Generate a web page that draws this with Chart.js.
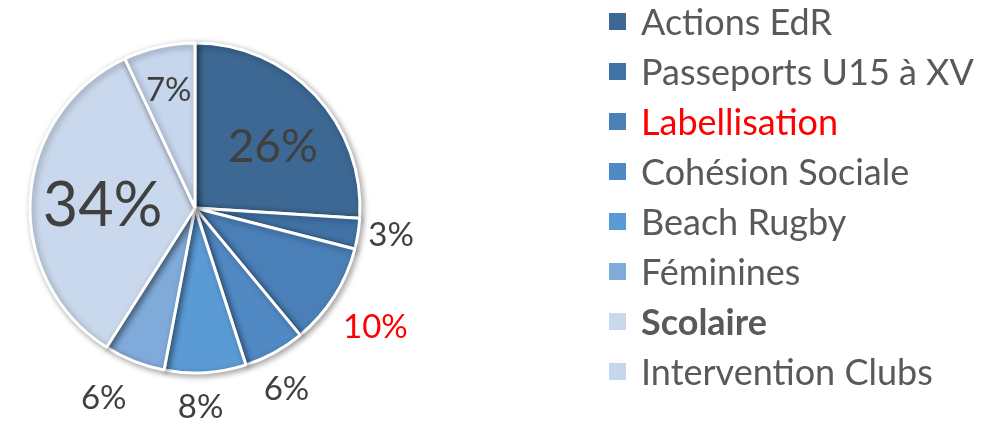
<!DOCTYPE html>
<html>
<head>
<meta charset="utf-8">
<script src="https://cdn.jsdelivr.net/npm/chart.js@4"></script>
<style>
  html, body { margin: 0; padding: 0; background: #fff; }
  #wrap { width: 1000px; height: 425px; position: relative; }
</style>
</head>
<body>
<div id="wrap"><canvas id="myChart" width="1000" height="425"></canvas></div>
<script>
// DATA
const categories = [
  "Actions EdR",
  "Passeports U15 à XV",
  "Labellisation",
  "Cohésion Sociale",
  "Beach Rugby",
  "Féminines",
  "Scolaire",
  "Intervention Clubs",
];
const shares = [26, 3, 10, 6, 8, 6, 34, 7];

// STYLE
const sliceColors = [
  "#3c6893", "#4072a6", "#4a7fb8", "#5189c5",
  "#5b9bd5", "#7faad9", "#c9d8ec", "#c6d6ec",
];
// where each percent label sits: fraction of radius, and a small turn (degrees) off the slice middle
const labelRadius = [0.6, 1.2, 1.31, 1.23, 1.21, 1.28, 0.56, 0.73];
const labelTurn = [5, -1, 1, 2, 2, 4, -2.5, 0];
const labelSize = [46, 33, 33, 33, 33, 33, 61, 33];
const labelColor = ["#404040", "#404040", "#ff0000", "#404040", "#404040", "#404040", "#404040", "#404040"];
const legendColor = ["#595959", "#595959", "#ff0000", "#595959", "#595959", "#595959", "#595959", "#595959"];
const legendWeight = ["normal", "normal", "normal", "normal", "normal", "normal", "bold", "normal"];
const FONT = "Lato, 'Open Sans', sans-serif";

// shadow under the pie
const pieShadow = {
  id: "pieShadow",
  beforeDatasetDraw(chart) {
    const ctx = chart.ctx;
    ctx.save();
    ctx.shadowColor = "rgba(0,0,0,0.35)";
    ctx.shadowBlur = 6;
    ctx.shadowOffsetX = 2;
    ctx.shadowOffsetY = 2;
  },
  afterDatasetDraw(chart) {
    chart.ctx.restore();
  },
};

// percent labels
const pctLabels = {
  id: "pctLabels",
  afterDatasetsDraw(chart) {
    const ctx = chart.ctx;
    const meta = chart.getDatasetMeta(0);
    ctx.save();
    ctx.textAlign = "center";
    ctx.textBaseline = "middle";
    meta.data.forEach((arc, i) => {
      const mid = (arc.startAngle + arc.endAngle) / 2 + (labelTurn[i] * Math.PI) / 180;
      const r = arc.outerRadius * labelRadius[i];
      const x = arc.x + Math.cos(mid) * r;
      const y = arc.y + Math.sin(mid) * r;
      ctx.font = labelSize[i] + "px " + FONT;
      ctx.fillStyle = labelColor[i];
      ctx.fillText(shares[i] + "%", x, y);
    });
    ctx.restore();
  },
};

// legend on the right
const sideLegend = {
  id: "sideLegend",
  afterDraw(chart) {
    const ctx = chart.ctx;
    const labels = chart.data.labels;
    const colors = chart.data.datasets[0].backgroundColor;
    ctx.save();
    ctx.textBaseline = "middle";
    ctx.textAlign = "left";
    labels.forEach((lab, i) => {
      const y = 22 + i * 50;
      ctx.fillStyle = colors[i];
      ctx.fillRect(609, y - 9, 17, 17);
      ctx.font = legendWeight[i] + " 36px " + FONT;
      ctx.fillStyle = legendColor[i];
      ctx.fillText(lab, 641, y + 1);
    });
    ctx.restore();
  },
};

const ctx = document.getElementById("myChart").getContext("2d");
const chart = new Chart(ctx, {
  type: "pie",
  data: {
    labels: categories,
    datasets: [
      {
        data: shares,
        backgroundColor: sliceColors,
        borderColor: "#ffffff",
        borderWidth: 3,
      },
    ],
  },
  options: {
    responsive: false,
    animation: false,
    radius: 165,
    layout: { padding: { left: 0, right: 610, top: 0, bottom: 9 } },
    plugins: {
      legend: { display: false },
      tooltip: { enabled: false },
    },
  },
  plugins: [pieShadow, pctLabels, sideLegend],
});
</script>
</body>
</html>
